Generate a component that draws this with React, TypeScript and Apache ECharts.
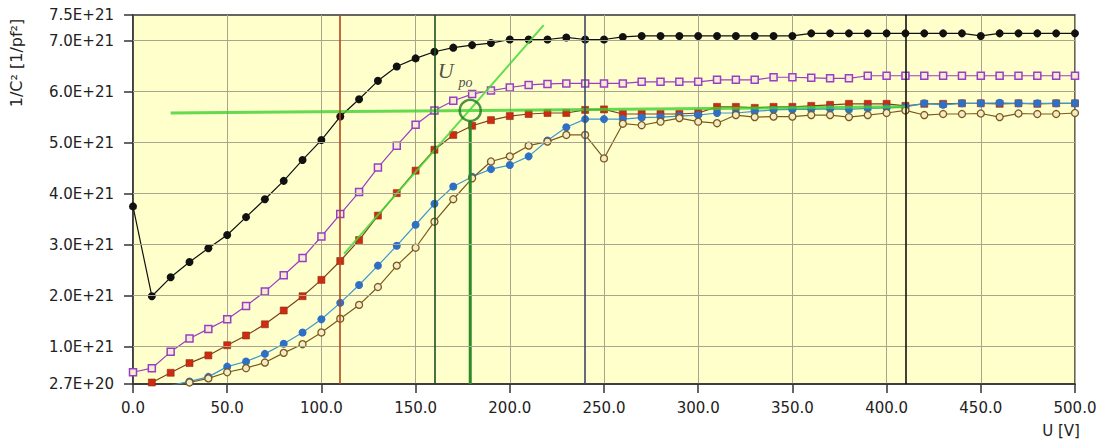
import React, { useEffect, useRef } from "react";
import * as echarts from "echarts";

// Bias voltage U [V]
const voltages = [
  0, 10, 20, 30, 40, 50, 60, 70, 80, 90, 100, 110, 120, 130, 140, 150, 160, 170, 180, 190,
  200, 210, 220, 230, 240, 250, 260, 270, 280, 290, 300, 310, 320, 330, 340, 350, 360, 370,
  380, 390, 400, 410, 420, 430, 440, 450, 460, 470, 480, 490, 500,
];

// 1/C^2 in units of 1E+21 [1/pF^2]
const curveBlack = [
  3.75, 1.99, 2.36, 2.66, 2.93, 3.19, 3.54, 3.89, 4.25, 4.66, 5.05, 5.51, 5.85, 6.21, 6.49, 6.65,
  6.78, 6.86, 6.91, 6.95, 7.02, 7.02, 7.02, 7.06, 7.02, 7.02, 7.07, 7.09, 7.09, 7.09, 7.09, 7.09,
  7.09, 7.09, 7.09, 7.09, 7.14, 7.14, 7.14, 7.14, 7.14, 7.14, 7.14, 7.14, 7.14, 7.09, 7.14, 7.14,
  7.14, 7.14, 7.14,
];
const curvePurple = [
  0.5, 0.58, 0.9, 1.16, 1.35, 1.54, 1.8, 2.08, 2.4, 2.74, 3.16, 3.6, 4.03, 4.51, 4.94, 5.35,
  5.63, 5.82, 5.95, 6.02, 6.08, 6.13, 6.15, 6.16, 6.16, 6.16, 6.16, 6.19, 6.19, 6.19, 6.19, 6.23,
  6.23, 6.23, 6.28, 6.28, 6.27, 6.26, 6.26, 6.31, 6.31, 6.31, 6.31, 6.31, 6.31, 6.31, 6.31, 6.31,
  6.31, 6.31, 6.31,
];
const curveRed = [
  null, 0.3, 0.49, 0.68, 0.83, 1.03, 1.22, 1.44, 1.71, 1.99, 2.31, 2.68, 3.09, 3.57, 4.01, 4.45,
  4.86, 5.15, 5.33, 5.44, 5.52, 5.56, 5.58, 5.58, 5.64, 5.65, 5.56, 5.56, 5.56, 5.56, 5.58, 5.7,
  5.7, 5.68, 5.7, 5.7, 5.72, 5.74, 5.76, 5.76, 5.76, 5.72, 5.76, 5.76, 5.77, 5.77, 5.76, 5.77,
  5.76, 5.77, 5.77,
];
const curveBlue = [
  null, null, 0.24, 0.32, 0.41, 0.61, 0.71, 0.86, 1.06, 1.28, 1.54, 1.86, 2.21, 2.59, 2.98, 3.39,
  3.8, 4.14, 4.33, 4.48, 4.56, 4.73, 5.04, 5.3, 5.46, 5.46, 5.46, 5.49, 5.5, 5.52, 5.54, 5.58,
  5.58, 5.61, 5.64, 5.65, 5.65, 5.66, 5.65, 5.67, 5.68, 5.7, 5.77, 5.74, 5.77, 5.77, 5.78, 5.77,
  5.77, 5.77, 5.77,
];
const curveBrown = [
  null, null, 0.2, 0.3, 0.38, 0.5, 0.58, 0.69, 0.88, 1.05, 1.28, 1.55, 1.82, 2.17, 2.59, 2.94,
  3.45, 3.89, 4.3, 4.63, 4.73, 4.94, 5.02, 5.15, 5.15, 4.69, 5.37, 5.34, 5.41, 5.48, 5.41, 5.38,
  5.54, 5.5, 5.51, 5.51, 5.54, 5.54, 5.5, 5.54, 5.58, 5.63, 5.54, 5.56, 5.56, 5.57, 5.5, 5.57,
  5.56, 5.56, 5.58,
];

// Axis ticks
const yTickValues = [0.27, 1, 2, 3, 4, 5, 6, 7, 7.5];
const yGridValues = [1, 2, 3, 4, 5, 6, 7];

// Guide lines and the punch-through construction
const guideVoltages = [110, 160, 240, 410];
const guideColors = ["#b4461c", "#1f4d1f", "#3b4868", "#111111"];
const plateauFit = [
  [20, 5.58],
  [410, 5.7],
];
const slopeFit = [
  [112, 2.82],
  [218, 7.3],
];
const upoPoint = [179, 5.63];
const upoDrop = [
  [179, 0.27],
  [179, 5.43],
];
const upoLabelU = [166, 6.42];
const upoLabelSub = [176.5, 6.17];

const pairs = (values: (number | null)[]) => voltages.map((u, i) => [u, values[i]]);

const FONT = "DejaVu Sans";

function formatY(v: number) {
  if (Math.abs(v - 0.27) < 1e-6) return "2.7E+20";
  return v.toFixed(1) + "E+21";
}

export default function App() {
  const ref = useRef<HTMLDivElement>(null);

  useEffect(() => {
    if (!ref.current) return;
    const chart = echarts.init(ref.current, null, { renderer: "svg" });

    const curve = (
      name: string,
      values: (number | null)[],
      symbol: string,
      size: number,
      line: string,
      fill: string,
      border: string,
      borderWidth: number
    ) => ({
      type: "line",
      name,
      data: pairs(values),
      symbol,
      symbolSize: size,
      showAllSymbol: true,
      clip: true,
      z: 3,
      lineStyle: { color: line, width: 1.2 },
      itemStyle: { color: fill, borderColor: border, borderWidth },
    });

    chart.setOption({
      animation: false,
      backgroundColor: "#ffffff",
      textStyle: { fontFamily: FONT },
      grid: {
        left: 133,
        right: 26,
        top: 15,
        bottom: 64,
        show: true,
        backgroundColor: "#FFFFCC",
        borderColor: "#333333",
        borderWidth: 1.5,
        outerBoundsMode: "none",
      },
      xAxis: {
        type: "value",
        min: 0,
        max: 500,
        interval: 50,
        axisLine: { show: true, lineStyle: { color: "#333333", width: 1.5 } },
        axisTick: { show: true, length: 9, lineStyle: { color: "#333333", width: 1.5 } },
        axisLabel: {
          formatter: (v: number) => v.toFixed(1),
          fontSize: 15,
          color: "#222222",
          margin: 16,
          fontFamily: FONT,
        },
        splitLine: { show: true, lineStyle: { color: "#a8a58c", width: 1 } },
      },
      yAxis: {
        type: "value",
        min: 0.27,
        max: 7.5,
        axisLine: { show: true, lineStyle: { color: "#333333", width: 1.5 } },
        axisTick: {
          show: true,
          length: 9,
          customValues: yTickValues,
          lineStyle: { color: "#333333", width: 1.5 },
        },
        axisLabel: {
          customValues: yTickValues,
          formatter: formatY,
          fontSize: 15,
          color: "#222222",
          margin: 19,
          fontFamily: FONT,
        },
        splitLine: { show: false },
      },
      series: [
        {
          type: "line",
          name: "grid",
          data: [],
          z: 1,
          silent: true,
          markLine: {
            silent: true,
            symbol: "none",
            label: { show: false },
            lineStyle: { color: "#a8a58c", width: 1, type: "solid" },
            data: yGridValues.map((y) => ({ yAxis: y })),
          },
        },
        {
          type: "line",
          name: "guides",
          data: [],
          z: 2,
          silent: true,
          markLine: {
            silent: true,
            symbol: "none",
            label: { show: false },
            data: guideVoltages.map((u, i) => ({
              xAxis: u,
              lineStyle: { color: guideColors[i], width: 1.6, type: "solid" },
            })),
          },
        },
        curve("black", curveBlack, "circle", 8, "#111111", "#111111", "#111111", 0),
        curve("purple", curvePurple, "rect", 7, "#9a3fc2", "#f5ecd6", "#9a3fc2", 1.5),
        curve("red", curveRed, "rect", 7, "#7c4418", "#cf2b12", "#8a3010", 0.6),
        curve("blue", curveBlue, "circle", 8, "#3d98cf", "#2f6fc4", "#2f6fc4", 0),
        curve("brown", curveBrown, "circle", 7, "#7b5a1e", "#f3ecc6", "#7b5a1e", 1.3),
        {
          type: "line",
          name: "plateau fit",
          data: plateauFit,
          symbol: "none",
          z: 4,
          silent: true,
          lineStyle: { color: "#3fcf2f", width: 3, opacity: 0.8 },
        },
        {
          type: "line",
          name: "slope fit",
          data: slopeFit,
          symbol: "none",
          z: 4,
          silent: true,
          lineStyle: { color: "#45d838", width: 2, opacity: 0.85 },
        },
        {
          type: "line",
          name: "Upo drop",
          data: upoDrop,
          symbol: "none",
          z: 4,
          silent: true,
          lineStyle: { color: "#2a8a2a", width: 3 },
        },
        {
          type: "scatter",
          name: "Upo",
          data: [upoPoint],
          symbol: "circle",
          symbolSize: 21,
          z: 5,
          silent: true,
          itemStyle: { color: "rgba(0,0,0,0)", borderColor: "#1e7a1e", borderWidth: 2.5 },
        },
        {
          type: "scatter",
          name: "Upo label",
          data: [upoLabelU],
          symbolSize: 0,
          z: 5,
          silent: true,
          label: {
            show: true,
            position: "inside",
            formatter: "U",
            fontFamily: "Liberation Serif",
            fontStyle: "italic",
            fontSize: 22,
            color: "#222222",
          },
        },
        {
          type: "scatter",
          name: "Upo subscript",
          data: [upoLabelSub],
          symbolSize: 0,
          z: 5,
          silent: true,
          label: {
            show: true,
            position: "inside",
            formatter: "po",
            fontFamily: "Liberation Serif",
            fontStyle: "italic",
            fontSize: 14,
            color: "#222222",
          },
        },
      ],
      graphic: [
        {
          type: "text",
          x: 16,
          y: 63,
          rotation: Math.PI / 2,
          style: {
            text: "1/C² [1/pf²]",
            fontFamily: FONT,
            fontSize: 16,
            fill: "#222222",
            align: "center",
            verticalAlign: "middle",
          },
        },
        {
          type: "text",
          x: 1061,
          y: 431,
          style: {
            text: "U [V]",
            fontFamily: FONT,
            fontSize: 15,
            fill: "#222222",
            align: "center",
            verticalAlign: "middle",
          },
        },
      ],
    });

    return () => chart.dispose();
  }, []);

  return (
    <div
      ref={ref}
      style={{ position: "absolute", left: 0, top: 0, width: 1101, height: 448, background: "#ffffff" }}
    />
  );
}
